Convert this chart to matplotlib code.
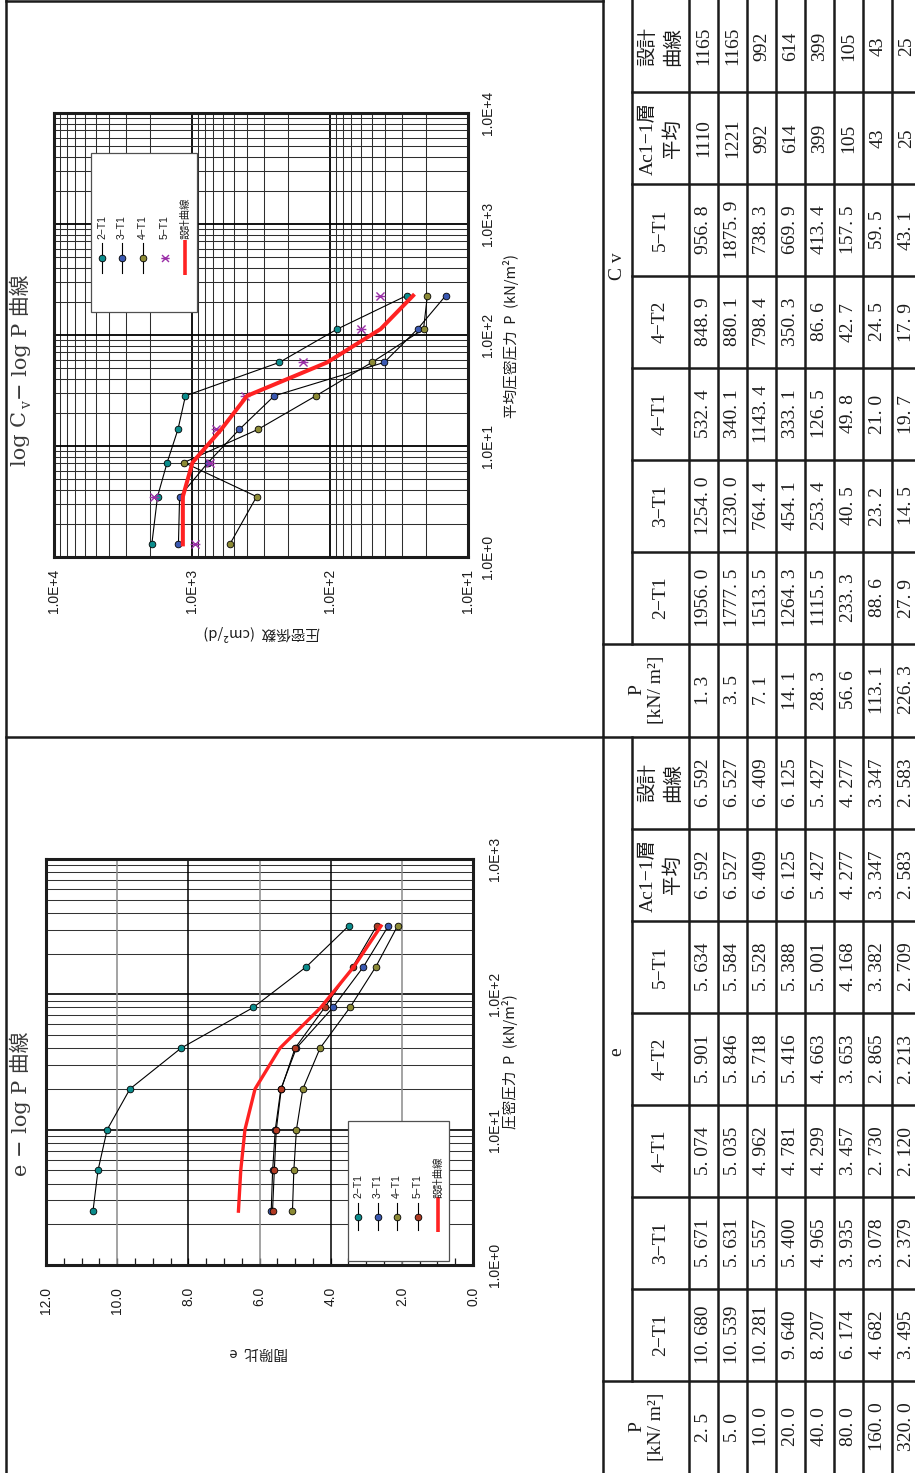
import numpy as np
import matplotlib
matplotlib.use("Agg")
import matplotlib.pyplot as plt
from matplotlib.transforms import blended_transform_factory
from matplotlib.patches import Rectangle
from matplotlib.path import Path
from matplotlib.ticker import LogLocator, NullFormatter

# ---------------------------------------------------------------- data
# consolidation coefficient table (Cv, cm2/d) vs mean consolidation pressure
P_cv = [1.3, 3.5, 7.1, 14.1, 28.3, 56.6, 113.1, 226.3]
cv_2T1 = [1956.0, 1777.5, 1513.5, 1264.3, 1115.5, 233.3, 88.6, 27.9]
cv_3T1 = [1254.0, 1230.0, 764.4, 454.1, 253.4, 40.5, 23.2, 14.5]
cv_4T1 = [532.4, 340.1, 1143.4, 333.1, 126.5, 49.8, 21.0, 19.7]
cv_4T2 = [848.9, 880.1, 798.4, 350.3, 86.6, 42.7, 24.5, 17.9]
cv_5T1 = [956.8, 1875.9, 738.3, 669.9, 413.4, 157.5, 59.5, 43.1]
cv_avg = [1110, 1221, 992, 614, 399, 105, 43, 25]
cv_design = [1165, 1165, 992, 614, 399, 105, 43, 25]

# void ratio table (e) vs consolidation pressure
P_e = [2.5, 5.0, 10.0, 20.0, 40.0, 80.0, 160.0, 320.0]
e_2T1 = [10.680, 10.539, 10.281, 9.640, 8.207, 6.174, 4.682, 3.495]
e_3T1 = [5.671, 5.631, 5.557, 5.400, 4.965, 3.935, 3.078, 2.379]
e_4T1 = [5.074, 5.035, 4.962, 4.781, 4.299, 3.457, 2.730, 2.120]
e_4T2 = [5.901, 5.846, 5.718, 5.416, 4.663, 3.653, 2.865, 2.213]
e_5T1 = [5.634, 5.584, 5.528, 5.388, 5.001, 4.168, 3.382, 2.709]
e_avg = [6.592, 6.527, 6.409, 6.125, 5.427, 4.277, 3.347, 2.583]
e_design = [6.592, 6.527, 6.409, 6.125, 5.427, 4.277, 3.347, 2.583]

cv_ticks = [1e4, 1e3, 1e2, 1e1]
p_ticks_cv = [1e0, 1e1, 1e2, 1e3, 1e4]
e_ticks = [12, 10, 8, 6, 4, 2, 0]
p_ticks_e = [1e0, 1e1, 1e2, 1e3]

# ---------------------------------------------------------------- style
TEAL = "#0b8c8c"
BLUE = "#3a58b0"
OLIVE = "#8c8a35"
BROWN = "#b03a22"
PURPLE = "#9b30a8"
RED = "#ff2222"
INK = "#1c1c1c"

SANS = ["Liberation Sans", "Noto Sans CJK JP", "DejaVu Sans"]
JSANS = ["Noto Sans CJK JP", "DejaVu Sans"]
SERIF = ["Liberation Serif", "Noto Sans CJK JP", "DejaVu Serif"]
TSERIF = ["DejaVu Serif", "Noto Sans CJK JP"]

# asterisk-like marker: an X crossed by a bar
STAR = Path([(-1, -1), (1, 1), (-1, 1), (1, -1), (-1.2, 0), (1.2, 0)],
            [Path.MOVETO, Path.LINETO, Path.MOVETO, Path.LINETO,
             Path.MOVETO, Path.LINETO])

W, H = 915, 1473
fig = plt.figure(figsize=(W / 100, H / 100), dpi=100)


def px_rect(x0, y0, x1, y1):
    return [x0 / W, 1 - y1 / H, (x1 - x0) / W, (y1 - y0) / H]


def pixel_axes(z):
    a = fig.add_axes([0, 0, 1, 1], zorder=z)
    a.set_xlim(0, W)
    a.set_ylim(H, 0)
    a.axis("off")
    a.patch.set_visible(False)
    return a


bg = pixel_axes(0)

# ---------------------------------------------------------------- page frame
bg.plot([6, 6], [0, H], color=INK, lw=1.8)
bg.plot([6, 603], [1, 1], color=INK, lw=1.8)
bg.plot([6, W], [737, 737], color=INK, lw=1.8)


def log_grid(ax, axis):
    ax_ = ax.xaxis if axis == "x" else ax.yaxis
    ax_.set_major_locator(LogLocator(base=10, numticks=12))
    ax_.set_minor_locator(LogLocator(base=10, subs=np.arange(2, 10), numticks=12))
    ax_.set_major_formatter(NullFormatter())
    ax_.set_minor_formatter(NullFormatter())


def frame(ax):
    for s in ax.spines.values():
        s.set_linewidth(2.2)
        s.set_color(INK)


def series(ax, x, y, face):
    ax.plot(x, y, "-", color="black", lw=0.8, zorder=3)
    ax.plot(x, y, "o", ls="none", mfc=face, mec="black", mew=0.6, ms=4.8, zorder=4)


# ---------------------------------------------------------------- log Cv - log P chart
ax_cv = fig.add_axes(px_rect(54, 113, 468, 557), zorder=1)
ax_cv.set_xscale("log")
ax_cv.set_yscale("log")
ax_cv.set_xlim(1e4, 1e1)
ax_cv.set_ylim(1, 1e4)
log_grid(ax_cv, "x")
log_grid(ax_cv, "y")
ax_cv.tick_params(which="both", length=0)
ax_cv.grid(which="major", color="black", lw=1.3)
ax_cv.grid(which="minor", color="#2e2e2e", lw=0.75)
ax_cv.set_axisbelow(True)
frame(ax_cv)

series(ax_cv, cv_2T1, P_cv, TEAL)
series(ax_cv, cv_3T1, P_cv, BLUE)
series(ax_cv, cv_4T1, P_cv, OLIVE)
ax_cv.plot(cv_5T1, P_cv, ls="none", marker=STAR, mec=PURPLE, mfc="none",
           ms=7, mew=1.0, zorder=4)
ax_cv.plot(cv_design, P_cv, color=RED, lw=2.9, zorder=5, solid_joinstyle="round")

tx = blended_transform_factory(ax_cv.transData, bg.transData)
for v in cv_ticks:
    ax_cv.text(v, 569, f"1.0E+{int(round(np.log10(v)))}", transform=tx, rotation=90,
               ha="center", va="top", fontsize=10, family=SANS, color=INK)
ty = blended_transform_factory(bg.transData, ax_cv.transData)
for v in p_ticks_cv:
    ax_cv.text(488, v, f"1.0E+{int(round(np.log10(v)))}", transform=ty, rotation=90,
               ha="center", va="center", fontsize=10, family=SANS, color=INK)

bg.text(262, 633, "圧密係数  (cm²/d)", rotation=180, ha="center", va="center",
        fontsize=10.5, family=JSANS, color=INK)
bg.text(511, 336, "平均圧密圧力  P  (kN/m²)", rotation=90, ha="center", va="center",
        fontsize=10.5, family=JSANS, color=INK)

# title: "log C" + subscript "v" + remainder, set upward along the left margin
TITLE_C = "#3a3a3a"
bg.text(20, 466, "log C", rotation=90, ha="center", va="bottom", fontsize=15,
        family=TSERIF, color=TITLE_C)
bg.text(27, 409, "v", rotation=90, ha="center", va="bottom", fontsize=10,
        family=TSERIF, color=TITLE_C)
bg.text(20, 400, "− log P 曲線", rotation=90, ha="center", va="bottom", fontsize=15,
        family=TSERIF, color=TITLE_C)

# ---------------------------------------------------------------- e - log P chart
ax_e = fig.add_axes(px_rect(46, 859, 473, 1265), zorder=1)
ax_e.set_yscale("log")
ax_e.set_xlim(12, 0)
ax_e.set_ylim(1, 1000)
log_grid(ax_e, "y")
ax_e.set_xticks(e_ticks)
ax_e.set_xticks(np.arange(0, 12.01, 0.5), minor=True)
ax_e.tick_params(axis="x", which="both", direction="in", length=5, width=0.9,
                 bottom=True, top=False, labelbottom=False, color=INK)
ax_e.tick_params(axis="y", which="both", length=0, labelleft=False)
ax_e.grid(axis="y", which="major", color="black", lw=1.2)
ax_e.grid(axis="y", which="minor", color="#333333", lw=0.75)
ax_e.grid(axis="x", which="both", visible=False)
for v, c in zip([2, 4, 6, 8, 10], ["#8a8a8a", "black", "#8a8a8a", "black", "#8a8a8a"]):
    ax_e.axvline(v, color=c, lw=1.1, zorder=0.6)
ax_e.set_axisbelow(True)
frame(ax_e)

series(ax_e, e_2T1, P_e, TEAL)
series(ax_e, e_3T1, P_e, BLUE)
series(ax_e, e_4T1, P_e, OLIVE)
series(ax_e, e_5T1, P_e, BROWN)
ax_e.plot(e_design, P_e, color=RED, lw=2.4, zorder=5, solid_joinstyle="round")

tx = blended_transform_factory(ax_e.transData, bg.transData)
for v in e_ticks:
    ax_e.text(v, 1287, f"{v:.1f}", transform=tx, rotation=90, ha="center", va="top",
              fontsize=10, family=SANS, color=INK)
ty = blended_transform_factory(bg.transData, ax_e.transData)
for v in p_ticks_e:
    ax_e.text(495, v, f"1.0E+{int(round(np.log10(v)))}", transform=ty, rotation=90,
              ha="center", va="center", fontsize=10, family=SANS, color=INK)

bg.text(259, 1352, "間隙比  e", rotation=180, ha="center", va="center",
        fontsize=10.5, family=JSANS, color=INK)
bg.text(510, 1062, "圧密圧力  P  (kN/m²)", rotation=90, ha="center", va="center",
        fontsize=10.5, family=JSANS, color=INK)
bg.text(20, 1104, "e − log P 曲線", rotation=90, ha="center", va="center",
        fontsize=15, family=TSERIF, color=TITLE_C)

# ---------------------------------------------------------------- legends
ov = pixel_axes(5)


def legend(box, xs, line_y, mark_y, text_y, red_y, entries):
    x0, y0, x1, y1 = box
    ov.add_patch(Rectangle((x0, y0), x1 - x0, y1 - y0, fc="white", ec="#505050",
                           lw=0.9, zorder=5))
    for x, (label, kind, color) in zip(xs, entries):
        if kind == "circle":
            ov.plot([x, x], line_y, color="black", lw=0.8, zorder=6)
            ov.plot([x], [mark_y], "o", mfc=color, mec="black", mew=0.6, ms=4.8, zorder=7)
        elif kind == "star":
            ov.plot([x], [mark_y], ls="none", marker=STAR, mec=color, mfc="none",
                    ms=6, mew=1.0, zorder=7)
        else:
            ov.plot([x, x], red_y, color=color, lw=2.6, zorder=6, solid_capstyle="butt")
        ov.text(x, text_y, label, rotation=90, ha="center", va="bottom", fontsize=7.5,
                family=SANS, color=INK, zorder=7)


legend((91, 153, 197, 312), [102, 122, 143, 165, 185], (243, 273), 258, 239, (240, 275),
       [("2−T1", "circle", TEAL), ("3−T1", "circle", BLUE), ("4−T1", "circle", OLIVE),
        ("5−T1", "star", PURPLE), ("設計曲線", "line", RED)])
legend((348, 1121, 449, 1261), [358, 378, 397, 418, 438], (1203, 1230), 1217, 1198,
       (1197, 1232),
       [("2−T1", "circle", TEAL), ("3−T1", "circle", BLUE), ("4−T1", "circle", OLIVE),
        ("5−T1", "circle", BROWN), ("設計曲線", "line", RED)])

# ---------------------------------------------------------------- tables
X_TAB, X_GRP, X_HDR, ROW = 603, 632, 689, 29.05
COL = 92.0
TFS = 14


def fmt(v, nd):
    s = f"{v:.{nd}f}"
    return s.replace(".", ". ") if nd > 0 else s


def table(y0, group, group_y, columns, p_vals, p_nd):
    edges = [y0 + COL * i for i in range(9)]
    rows = [X_HDR + ROW * i for i in range(9)]
    lw = 1.8
    # vertical rules (constant x)
    bg.plot([X_TAB, X_TAB], [edges[0], edges[8]], color=INK, lw=lw)
    bg.plot([X_GRP, X_GRP], [edges[0], edges[7]], color=INK, lw=lw)
    for r in rows[:8]:
        bg.plot([r, r], [edges[0], edges[8]], color=INK, lw=lw)
    # horizontal rules (constant y)
    for e in edges[1:7]:
        bg.plot([X_GRP, W], [e, e], color=INK, lw=lw)
    bg.plot([X_TAB, W], [edges[7], edges[7]], color=INK, lw=lw)
    # group heading
    bg.text(617, group_y, group, rotation=90, ha="center", va="center",
            fontsize=TFS, family=SERIF, color=INK)
    # series columns
    for i, (head, vals, nd) in enumerate(columns):
        yc = (edges[i] + edges[i + 1]) / 2
        two = "\n" in head
        bg.text((X_GRP + X_HDR) / 2, yc, head, rotation=90, ha="center", va="center",
                fontsize=TFS, family=SERIF, color=INK,
                linespacing=1.45 if two else 1.0, multialignment="center")
        for j, v in enumerate(vals):
            bg.text((rows[j] + rows[j + 1]) / 2, yc, fmt(v, nd), rotation=90,
                    ha="center", va="center", fontsize=TFS, family=SERIF, color=INK)
    # pressure column
    yc = (edges[7] + edges[8]) / 2
    bg.text((X_TAB + X_HDR) / 2 + 1, yc, "P\n[kN/ m²]", rotation=90, ha="center",
            va="center", fontsize=TFS, family=SERIF, color=INK, linespacing=1.2,
            multialignment="center")
    for j, v in enumerate(p_vals):
        bg.text((rows[j] + rows[j + 1]) / 2, yc, fmt(v, p_nd), rotation=90,
                ha="center", va="center", fontsize=TFS, family=SERIF, color=INK)


table(0, "C v", 266,
      [("設計\n曲線", cv_design, 0), ("Ac1−1層\n平均", cv_avg, 0),
       ("5−T1", cv_5T1, 1), ("4−T2", cv_4T2, 1), ("4−T1", cv_4T1, 1),
       ("3−T1", cv_3T1, 1), ("2−T1", cv_2T1, 1)],
      P_cv, 1)
table(737, "e", 1052,
      [("設計\n曲線", e_design, 3), ("Ac1−1層\n平均", e_avg, 3),
       ("5−T1", e_5T1, 3), ("4−T2", e_4T2, 3), ("4−T1", e_4T1, 3),
       ("3−T1", e_3T1, 3), ("2−T1", e_2T1, 3)],
      P_e, 1)

fig.savefig("out.png", dpi=100)
